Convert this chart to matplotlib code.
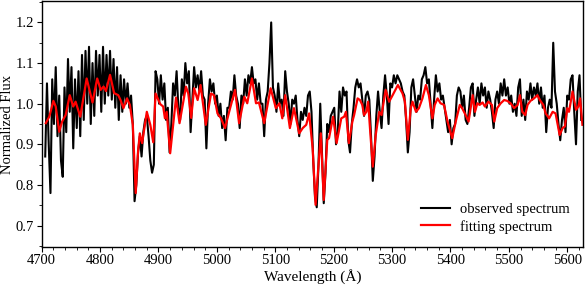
import numpy as np
import matplotlib
matplotlib.use("Agg")
import matplotlib.pyplot as plt
from matplotlib.ticker import MultipleLocator

# ---------------- data ----------------
# observed spectrum, uniform sampling
obs_start = 4706.0
obs_step = 3.0
obs_flux = [
    0.87, 1.05, 0.90, 0.78, 1.06, 0.95, 1.09, 0.92, 1.02, 0.86,
    0.82, 1.04, 0.93, 1.11, 0.98, 1.09, 0.89, 1.06, 0.94, 1.08,
    0.92, 1.12, 0.96, 1.13, 1.00, 1.14, 0.95, 1.10, 0.97, 1.13,
    1.02, 1.12, 0.98, 1.14, 1.00, 1.12, 1.02, 1.13, 1.01, 1.11,
    0.99, 1.09, 0.96, 1.07, 0.98, 1.06, 1.00, 1.05, 0.99,
    1.02, 0.95, 0.76, 0.80, 0.88, 0.92, 0.87, 0.93, 0.96, 0.97,
    0.92, 0.86, 0.83, 0.85, 1.08,
    1.06, 1.00, 1.07, 1.01, 1.05, 0.96, 0.99, 0.88, 0.95, 1.05,
    1.02, 1.08, 0.99, 0.96, 1.06, 1.02, 1.10, 1.05, 1.08, 0.93,
    1.01, 1.09, 1.04, 1.07, 1.03, 1.08, 1.02, 1.01, 0.89, 1.00,
    1.06, 1.03, 1.05, 1.00, 1.02, 0.97, 1.00, 0.94, 0.97, 0.91,
    0.99, 0.99, 1.03, 1.01, 1.07, 1.02, 1.00, 0.94, 1.02, 1.00,
    1.06, 1.02, 1.07, 1.05, 1.09, 1.05, 1.06, 1.01, 1.05, 1.00,
    1.00, 0.92, 1.01, 1.03, 1.10, 1.20, 1.04, 1.02, 0.98, 1.05,
    1.00, 1.01, 0.97, 1.08, 1.03, 1.00, 0.95, 1.01, 1.00, 1.02,
    0.96, 0.92, 0.98, 0.96, 0.99, 0.97, 1.02, 1.03, 0.98, 0.86,
    0.77, 0.745, 0.85, 1.00, 0.88, 0.755, 0.83, 0.95, 0.93, 0.97,
    0.98, 0.99, 0.90, 0.93, 1.03, 0.98, 1.04, 1.02, 1.03, 0.91,
    0.88, 0.95, 0.99, 1.04, 1.06, 1.04, 1.05, 1.01, 0.97, 1.02,
    1.03, 1.01, 0.92, 0.81, 0.87, 0.97, 1.03, 0.98, 0.94, 1.02,
    1.07, 1.02, 0.95, 1.05, 1.04, 1.07, 1.05, 1.07, 1.06, 1.05,
    1.03, 1.02, 0.96, 0.88, 0.93, 1.04, 1.06, 1.02, 0.98, 1.02,
    1.01, 1.06, 1.07, 1.09, 1.05, 1.06, 1.00, 0.94, 1.01, 1.07,
    1.03, 1.05, 1.01, 1.02, 0.99, 0.96, 0.93, 0.96, 0.90, 0.94,
    0.95, 1.02, 1.04, 1.03, 0.99, 1.02, 0.96, 0.95, 0.99, 1.04,
    1.05, 0.97, 1.01, 1.04, 1.00, 1.05, 1.02, 1.04, 0.99, 1.03,
    1.01, 0.98, 0.94, 1.01, 1.03, 1.00, 1.05, 1.02, 1.06, 1.02,
    1.04, 1.00, 1.02, 0.98, 1.00, 0.97, 1.04, 1.06, 0.97, 1.01,
    0.96, 1.03, 1.01, 1.05, 1.01, 1.04, 1.02, 1.05, 1.00, 1.04,
    0.99, 1.02, 0.93, 0.99, 1.01, 0.99, 1.15, 1.03, 1.00, 0.95,
    0.91, 0.96, 0.99, 0.93, 1.02, 1.01, 1.06, 1.07, 0.98, 0.90,
    1.03, 1.07, 0.96,
]

# fitted (model) spectrum
fit_wl = [
    4707, 4713, 4720, 4724, 4730, 4735, 4741, 4748, 4754, 4758,
    4766, 4777, 4787, 4795, 4801, 4806, 4810, 4817, 4824, 4831,
    4835, 4840, 4846, 4851, 4856, 4861, 4865, 4868, 4872, 4880,
    4886, 4891, 4895, 4903, 4908, 4911, 4914, 4920, 4930, 4936,
    4947, 4951, 4956, 4961, 4967, 4972, 4981, 4990, 4995, 5001,
    5007, 5014, 5021, 5031, 5038, 5047, 5052, 5060, 5067, 5072,
    5081, 5092, 5101, 5107, 5112, 5117, 5125, 5132, 5141, 5147,
    5153, 5158, 5164, 5169, 5178, 5183, 5189, 5192, 5199, 5205,
    5213, 5218, 5221, 5226, 5232, 5235, 5241, 5245, 5249, 5252,
    5256, 5259, 5263, 5267, 5272, 5278, 5282, 5289, 5295, 5301,
    5310, 5318, 5322, 5327, 5332, 5335, 5341, 5346, 5352, 5358,
    5363, 5369, 5373, 5378, 5383, 5389, 5395, 5403, 5409, 5416,
    5420, 5426, 5431, 5438, 5442, 5446, 5450, 5455, 5459, 5465,
    5471, 5475, 5480, 5486, 5492, 5497, 5503, 5509, 5515, 5519,
    5523, 5528, 5532, 5537, 5543, 5549, 5553, 5559, 5563, 5569,
    5575, 5580, 5587, 5592, 5596, 5600, 5603, 5609, 5615, 5619,
    5622, 5626,
]
fit_flux = [
    0.952, 0.968, 1.007, 0.993, 0.931, 0.956, 0.972, 1.021, 0.993, 1.005,
    0.968, 1.062, 1.003, 1.062, 1.034, 1.042, 1.031, 1.071, 1.026, 1.021,
    1.009, 0.989, 1.013, 0.997, 0.948, 0.780, 0.882, 0.927, 0.903, 0.980,
    0.948, 0.905, 1.025, 0.999, 0.993, 0.964, 0.980, 0.878, 1.015, 0.952,
    1.042, 1.025, 0.965, 1.038, 1.009, 1.046, 0.948, 1.025, 1.021, 0.976,
    0.964, 0.940, 0.980, 1.034, 0.952, 1.017, 1.001, 1.062, 1.001, 1.003,
    0.952, 1.038, 0.989, 1.001, 0.964, 1.021, 0.940, 0.989, 0.927, 0.940,
    0.948, 0.976, 0.890, 0.751, 0.927, 0.763, 0.911, 0.915, 0.968, 0.903,
    0.964, 0.968, 0.980, 0.903, 0.956, 0.972, 1.013, 1.009, 0.997, 0.972,
    0.980, 1.005, 0.923, 0.845, 0.923, 0.980, 0.972, 1.034, 1.005, 1.021,
    1.046, 1.025, 1.005, 0.911, 0.989, 1.005, 0.980, 0.989, 1.013, 1.046,
    1.021, 0.964, 0.997, 1.013, 1.001, 0.997, 0.956, 0.915, 0.956, 0.997,
    0.989, 0.972, 0.956, 1.021, 0.980, 1.001, 0.997, 1.003, 0.993, 1.005,
    0.997, 0.956, 0.989, 1.001, 1.009, 1.007, 1.001, 0.989, 0.997, 1.021,
    0.980, 0.972, 0.997, 1.007, 1.013, 1.021, 1.009, 0.997, 0.976, 0.964,
    0.980, 0.976, 0.923, 0.940, 0.944, 0.989, 0.980, 1.030, 0.985, 0.993,
    1.013, 0.948,
]

x_ticks = [4700, 4800, 4900, 5000, 5100, 5200, 5300, 5400, 5500, 5600]
y_ticks = [0.7, 0.8, 0.9, 1.0, 1.1, 1.2]

# ---------------- plot ----------------
plt.rcParams['font.family'] = ['Liberation Serif', 'DejaVu Serif']
plt.rcParams['mathtext.fontset'] = 'stix'

obs_wl = obs_start + obs_step * np.arange(len(obs_flux))

fig = plt.figure(figsize=(5.85, 2.85), dpi=100)
ax = fig.add_axes([0.0713, 0.1344, 0.9253, 0.861])

ax.plot(obs_wl, obs_flux, color='black', lw=1.5, label='observed spectrum')
ax.plot(fit_wl, fit_flux, color='#ff0000', lw=1.6, label='fitting spectrum')

ax.set_xlim(4700, 5627)
ax.set_ylim(0.648, 1.252)
ax.set_xticks(x_ticks)
ax.set_xticklabels([str(t) for t in x_ticks])
ax.set_yticks(y_ticks)
ax.set_yticklabels([f"{t:.1f}" for t in y_ticks])
ax.xaxis.set_minor_locator(MultipleLocator(20))
ax.yaxis.set_minor_locator(MultipleLocator(0.05))
ax.tick_params(which='major', direction='out', length=3.5, width=0.8,
               labelsize=10.5, pad=2)
ax.tick_params(which='minor', direction='out', length=2, width=0.6)
ax.tick_params(top=False, right=False)
for s in ax.spines.values():
    s.set_linewidth(1.0)

ax.set_xlabel('Wavelength (Å)', fontsize=11, labelpad=1)
ax.set_ylabel('Normalized Flux', fontsize=10.5, labelpad=1)

ax.legend(loc='lower right', frameon=False, fontsize=10.5, handlelength=2.0,
          handletextpad=0.7, labelspacing=0.25, borderaxespad=0.5)

fig.savefig('out.png', dpi=100)
